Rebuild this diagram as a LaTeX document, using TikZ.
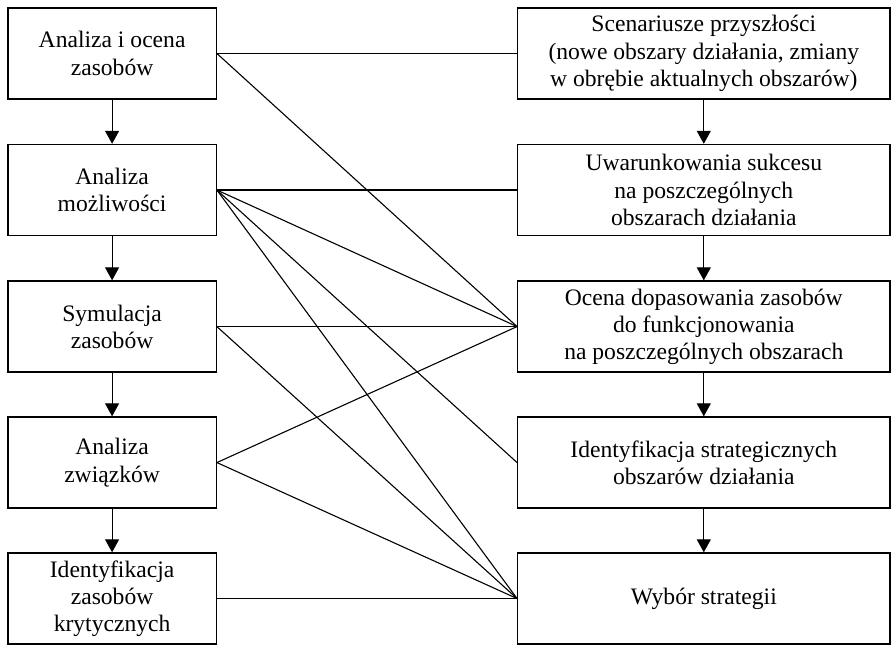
\documentclass[tikz,border=0pt]{standalone}
\usepackage{fontspec}
\setmainfont{Liberation Serif}
\usetikzlibrary{positioning, arrows.meta}

\begin{document}
\begin{tikzpicture}[
      every node/.style={font=\fontsize{11.8}{13.6}\selectfont},
      lbox/.style={draw, line width=0.7pt, minimum width=3.66cm, minimum height=1.6cm, align=center, inner sep=2pt},
      rbox/.style={draw, line width=0.7pt, minimum width=6.54cm, minimum height=1.6cm, align=center, inner sep=2pt},
      link/.style={line width=0.55pt},
      >={Triangle[width=7pt,length=6.5pt]},
    ]
    \useasboundingbox (0,0) rectangle (15.66,-11.32);

    % left column
    \node[lbox] (l1) at (1.97, -0.94) {Analiza i ocena\\zasobów};
    \node[lbox] (l2) at (1.97, -3.34) {Analiza\\możliwości};
    \node[lbox] (l3) at (1.97, -5.74) {Symulacja\\zasobów};
    \node[lbox] (l4) at (1.97, -8.13) {Analiza\\związków};
    \node[lbox] (l5) at (1.97, -10.52) {Identyfikacja\\zasobów\\krytycznych};

    % right column
    \node[rbox] (r1) at (12.37, -0.94) {Scenariusze przyszłości\\(nowe obszary działania, zmiany\\w obrębie aktualnych obszarów)};
    \node[rbox] (r2) at (12.37, -3.34) {Uwarunkowania sukcesu\\na poszczególnych\\obszarach działania};
    \node[rbox] (r3) at (12.37, -5.74) {Ocena dopasowania zasobów\\do funkcjonowania\\na poszczególnych obszarach};
    \node[rbox] (r4) at (12.37, -8.13) {Identyfikacja strategicznych\\obszarów działania};
    \node[rbox] (r5) at (12.37, -10.52) {Wybór strategii};

    \foreach \a/\b in {l1/l2, l2/l3, l3/l4, l4/l5, r1/r2, r2/r3, r3/r4, r4/r5}
      \draw[->, link] (\a) -- (\b);

    % cross links
    \foreach \a/\b in {l1/r1, l1/r3, l2/r2, l2/r3, l2/r4, l2/r5, l3/r3, l3/r5, l4/r3, l4/r5, l5/r5}
      \draw[link] (\a.east) -- (\b.west);
  \end{tikzpicture}
\end{document}
